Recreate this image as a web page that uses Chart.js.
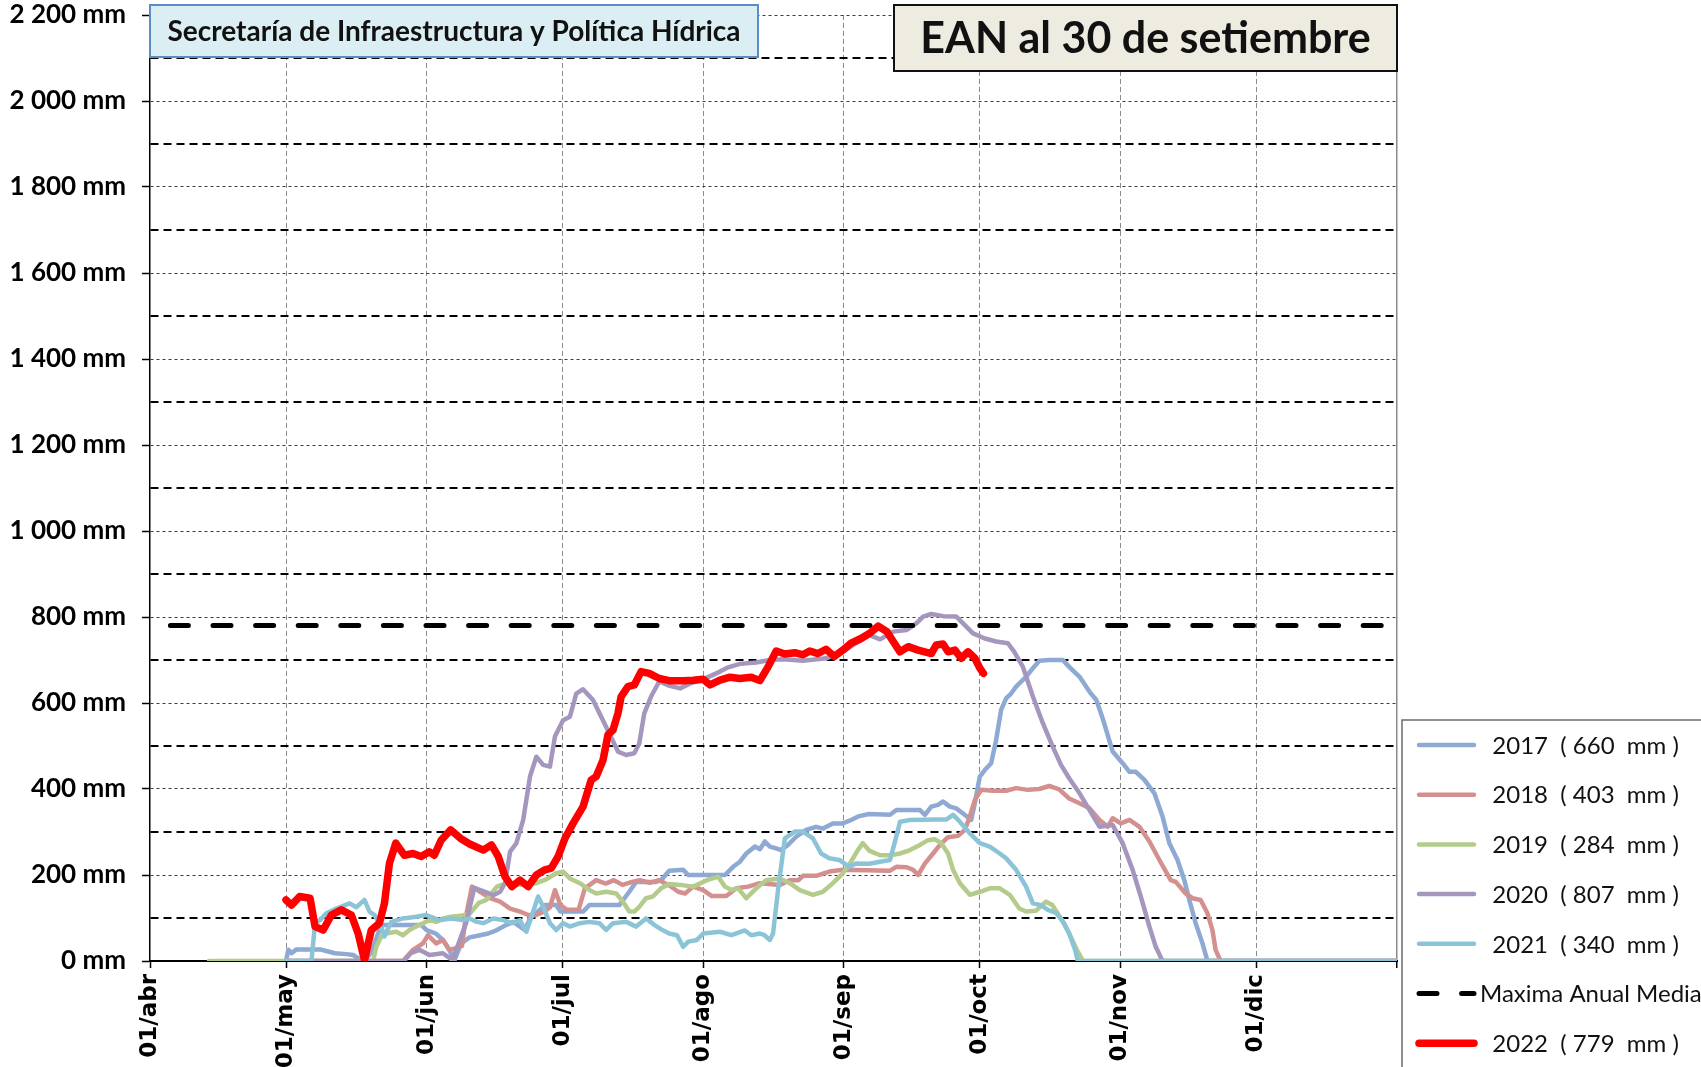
<!DOCTYPE html>
<html>
<head>
<meta charset="utf-8">
<title>EAN al 30 de setiembre</title>
<script src="https://cdn.jsdelivr.net/npm/chart.js@4.4.1/dist/chart.umd.min.js"></script>
<style>
  html, body { margin: 0; padding: 0; background: #fff; }
  #c { display: block; }
</style>
</head>
<body>
<canvas id="c" width="1701" height="1067"></canvas>
<script>
// ── Eje X: días contados desde el 01/abr ─────────────────────────────────
const MONTH_DAYS   = [0, 30, 61, 91, 122, 153, 183, 214, 244, 275]
const MONTH_LABELS = ["01/abr", "01/may", "01/jun", "01/jul", "01/ago", "01/sep", "01/oct", "01/nov", "01/dic", ""]

// ── Leyenda ──────────────────────────────────────────────────────────────
const SERIES_LABELS = [
  "  2017  ( 660  mm )",
  "  2018  ( 403  mm )",
  "  2019  ( 284  mm )",
  "  2020  ( 807  mm )",
  "  2021  ( 340  mm )",
  "Maxima Anual Media",
  "  2022  ( 779  mm )"
]

// ── Series (día, mm) ─────────────────────────────────────────────────────
const DAYS_2017 = [
  30, 30.5, 31.2, 32.3, 37.5, 39.3, 40.8, 43.3, 44.8, 46.3,
  47.3, 48.8, 50.5, 51.4, 59.8, 61, 63, 64.6, 66, 67.1,
  68.6, 70.5, 72.8, 74.6, 76.5, 78.6, 80.1, 81.6, 82.7, 83.8,
  87.1, 89.6, 90.5, 95.5, 96.9, 103.5, 105.7, 107.2, 111.6, 112.7,
  114.5, 117.6, 118.7, 126.8, 128.6, 130.1, 131.5, 133.4, 134.5, 135.6,
  136.7, 138.1, 139.2, 140.7, 142.5, 144.7, 146.9, 148.4, 150.6, 152.8,
  154.6, 156.4, 158.6, 163.2, 164.6, 169.8, 170.9, 172.3, 173.8, 174.9,
  176.4, 177.8, 179.3, 181.1, 181.9, 183, 184.1, 185.5, 186.6, 187.7,
  188.8, 189.9, 191, 193.2, 194.7, 196.1, 198.3, 201.3, 202.7, 205,
  207.2, 208.7, 210.1, 212.3, 214.5, 216, 217.4, 219.3, 221.5, 223.3,
  224.8, 226.6, 228.1, 229.2, 230.6, 232.1, 233.2, 275
]
const MM_2017 = [
  0, 26, 18, 27, 27, 22, 18, 16, 14, 4,
  0, 20, 70, 84, 84, 72, 64, 49, 26, 0,
  41, 55, 60, 64, 72, 84, 91, 80, 72, 99,
  130, 130, 115, 115, 130, 130, 161, 184, 184, 188,
  210, 212, 200, 200, 219, 231, 250, 266, 260, 278,
  266, 262, 258, 270, 289, 305, 312, 308, 320, 320,
  328, 337, 342, 340, 351, 351, 340, 359, 363, 371,
  359, 355, 343, 328, 367, 429, 444, 460, 514, 584,
  611, 622, 638, 661, 681, 698, 700, 700, 684, 661,
  626, 607, 564, 487, 460, 440, 440, 421, 390, 336,
  274, 235, 188, 142, 88, 41, 0, 0
]

const DAYS_2018 = [
  30, 55.8, 58, 60.2, 61.3, 63.1, 64.6, 66, 67.5, 68.8,
  69.6, 71, 72.8, 75, 77.2, 79.4, 81.6, 83.4, 85.2, 87,
  88.2, 89.3, 90.5, 92, 94.5, 95.9, 98.4, 100.5, 102.3, 104.2,
  106.3, 108, 110.2, 112.3, 114.6, 116.5, 118, 119.8, 122, 123.9,
  127.1, 129.3, 131.9, 134.5, 138.9, 141.1, 143, 144, 146.9, 149.8,
  152.8, 163.2, 164.6, 166.9, 168.3, 169.4, 170.9, 172.7, 174.2, 176,
  178.2, 179.7, 180.8, 181.9, 183.3, 185.9, 188.8, 191, 193.6, 196.1,
  198.3, 200.5, 202.7, 205, 207.2, 209.4, 211.2, 212.3, 214.1, 216,
  218.2, 220.4, 222.6, 225.1, 226.2, 228.4, 229.9, 231.7, 233.2, 234.3,
  235, 236.1, 275
]
const MM_2018 = [
  0, 0, 26, 41, 60, 41, 49, 26, 30, 35,
  100, 173, 161, 146, 138, 122, 115, 107, 107, 115,
  125, 165, 130, 119, 119, 169, 188, 180, 188, 177,
  184, 188, 182, 188, 175, 161, 157, 173, 165, 151,
  151, 169, 173, 181, 177, 188, 188, 198, 198, 208,
  212, 210, 219, 218, 212, 200, 227, 250, 270, 288,
  291, 305, 336, 374, 398, 396, 396, 402, 398, 400,
  407, 399, 378, 367, 355, 328, 312, 332, 320, 328,
  312, 278, 235, 188, 184, 157, 146, 142, 111, 72,
  26, 0, 0
]

const DAYS_2019 = [
  13, 49.2, 49.9, 51, 52.1, 54.3, 55.8, 57.2, 58.7, 60.2,
  61.6, 63.1, 64.6, 66.4, 68.5, 70.5, 72.5, 74.2, 76.5, 78.6,
  81.6, 85.2, 87.4, 89.6, 91.1, 92.6, 94.8, 96.9, 98.4, 100.6,
  102.8, 104.3, 105.7, 106.8, 107.9, 109.4, 110.9, 112.7, 114.5, 116.9,
  119.8, 122.8, 125.3, 126.8, 128.2, 129.7, 131.5, 133.7, 135.9, 138.9,
  141.1, 143.3, 146.2, 148.4, 150.6, 152.8, 154.6, 156.1, 157.2, 158.7,
  161, 163.2, 165.4, 167.6, 169.8, 171.6, 173.1, 174.5, 176, 177.1,
  178.6, 180.8, 183, 185.2, 187.4, 189.6, 191.7, 193.2, 195.4, 197.6,
  199, 200.9, 202.7, 204.4, 205.8, 275
]
const MM_2019 = [
  0, 0, 33, 57, 64, 68, 60, 72, 80, 88,
  95, 91, 99, 103, 105, 110, 135, 142, 173, 181,
  177, 181, 190, 204, 208, 192, 181, 165, 157, 161,
  157, 138, 115, 115, 126, 146, 150, 169, 179, 177,
  173, 188, 196, 173, 165, 169, 146, 169, 188, 192,
  181, 165, 154, 161, 181, 204, 231, 258, 274, 256,
  246, 246, 250, 258, 270, 281, 283, 274, 250, 212,
  181, 154, 161, 169, 169, 154, 122, 115, 117, 138,
  130, 99, 64, 26, 0, 0
]

const DAYS_2020 = [
  30, 56, 57.5, 59.4, 61.6, 64.6, 66.7, 68.6, 69.7, 71.5,
  73.9, 75.7, 77.2, 78.3, 79.4, 80.8, 82.3, 83.8, 85.2, 86.7,
  88.2, 89.3, 91.1, 92.6, 94, 95.5, 97.7, 99.5, 101.3, 103.2,
  105, 106.8, 107.9, 109, 110.5, 112.3, 114.6, 116.9, 119, 122,
  125.7, 127.5, 130.1, 133.7, 136.7, 139.6, 144, 149.1, 152.8, 155.7,
  158.7, 161, 163.9, 166.9, 169, 170.5, 172.3, 174.9, 177.8, 179.7,
  181.5, 184.1, 186.6, 189.2, 190.6, 192.5, 194.7, 196.9, 199.1, 200.9,
  202.7, 205, 207.2, 209.4, 212.3, 214.5, 216.7, 218.5, 220.4, 221.8,
  223.3, 275
]
const MM_2020 = [
  0, 0, 18, 26, 14, 18, 2, 57, 88, 170,
  161, 153, 161, 181, 254, 274, 328, 429, 475, 456,
  452, 522, 560, 568, 622, 632, 607, 568, 529, 487,
  479, 483, 506, 576, 615, 650, 640, 634, 645, 655,
  673, 683, 691, 694, 700, 702, 698, 704, 719, 739,
  758, 748, 766, 770, 785, 801, 807, 802, 801, 781,
  762, 750, 743, 739, 719, 684, 615, 553, 498, 456,
  425, 390, 351, 312, 316, 274, 212, 150, 80, 33,
  0, 0
]

const DAYS_2021 = [
  30, 35.6, 36.4, 37.5, 38.9, 41.1, 44, 45.5, 47.3, 48.4,
  49.5, 51, 51.7, 53.2, 55.8, 58.7, 60.9, 63.8, 66.4, 68.9,
  70.5, 72.1, 73.5, 75.7, 77.9, 79.8, 81.6, 83, 84.5, 85.6,
  86.7, 88.2, 89.6, 91.1, 92.6, 94.8, 96.9, 99.1, 100.6, 102.1,
  105, 107.2, 109.4, 111.2, 113, 114.5, 116.2, 117.6, 118.7, 120.6,
  122, 125.7, 128.2, 131.2, 132.6, 134.5, 135.5, 136.7, 137.4, 138.5,
  140, 142.2, 144, 146.2, 148, 149.8, 152, 154.2, 155.7, 158.6,
  161, 163.2, 164.3, 165.4, 167.6, 173.4, 175.6, 177.1, 178.6, 180.8,
  183, 185.2, 187.4, 188.8, 191, 193.2, 194.7, 196.5, 198, 199.8,
  201.6, 202.7, 204, 204.6, 275
]
const MM_2021 = [
  0, 0, 88, 95, 111, 122, 134, 125, 142, 115,
  107, 80, 57, 91, 99, 103, 107, 95, 99, 95,
  99, 91, 88, 99, 95, 88, 95, 68, 115, 150,
  126, 88, 72, 88, 80, 88, 91, 88, 72, 88,
  91, 80, 99, 84, 72, 64, 60, 33, 45, 49,
  64, 68, 60, 71, 60, 64, 60, 49, 64, 165,
  285, 301, 301, 285, 250, 239, 235, 219, 227, 226,
  231, 235, 278, 324, 328, 329, 329, 340, 324, 297,
  274, 266, 250, 239, 212, 173, 134, 130, 119, 112,
  88, 64, 26, 0, 0
]

const DAYS_2022 = [
  30, 31.2, 33, 35.3, 36.4, 38.2, 40, 42.2, 44.4, 45.9,
  47.3, 48.8, 50.6, 51.7, 52.8, 54.2, 56.1, 58, 59.8, 61.6,
  62.7, 64.2, 66.3, 68.5, 70.5, 73.5, 75.3, 76.8, 78.3, 79.8,
  81.6, 83.4, 85.2, 87.1, 88.5, 90, 91.5, 93.3, 95.5, 97.3,
  98.4, 99.9, 101, 102.1, 103.2, 103.9, 105.4, 106.8, 108.3, 110.1,
  112.3, 114.5, 117.6, 119.8, 122, 123.5, 125.7, 127.9, 130.1, 132.6,
  134.5, 136.3, 138.1, 140, 142.2, 144, 145.5, 147.3, 149.1, 150.9,
  152.8, 154.6, 156.8, 158.7, 160.6, 162.5, 163.9, 165.4, 167.2, 169.4,
  172.3, 173.4, 174.9, 176, 177.5, 178.9, 180.4, 181.9, 183, 183.8
]
const MM_2022 = [
  142, 130, 150, 146, 80, 72, 107, 119, 107, 64,
  2, 72, 88, 134, 227, 274, 246, 250, 243, 254,
  246, 281, 305, 285, 272, 258, 270, 243, 196, 173,
  188, 173, 200, 212, 216, 243, 285, 320, 359, 421,
  429, 467, 526, 537, 576, 615, 638, 642, 673, 669,
  657, 652, 652, 653, 655, 642, 653, 660, 657, 660,
  652, 684, 721, 714, 717, 712, 721, 715, 725, 708,
  723, 739, 750, 762, 779, 766, 743, 719, 731, 723,
  715, 735, 737, 719, 723, 704, 719, 704, 681, 669
]

// Máxima anual media (línea horizontal)
const DAYS_MAX = [4.5, 274]
const MM_MAX   = [780, 780]

const COLORS = ["#8DA9D4", "#D4908F", "#B4CB8C", "#A596BE", "#8CC4D7", "#000000", "#FF0000"]

// ── Helpers ──────────────────────────────────────────────────────────────
const pts = (days, vals) => days.map((d, i) => ({ x: d, y: vals[i] }))

function fmtMM(v) {
  if (v >= 1000) return Math.floor(v / 1000) + " " + String(v % 1000).padStart(3, "0") + " mm"
  return v + " mm"
}

function serie(i, days, vals, extra) {
  return Object.assign({
    label: SERIES_LABELS[i],
    data: pts(days, vals),
    borderColor: COLORS[i],
    backgroundColor: COLORS[i],
    borderWidth: 4.5,
    pointRadius: 0,
    tension: 0,
    borderJoinStyle: "round",
    borderCapStyle: "round",
    fill: false
  }, extra || {})
}

// ── Cajas de título y leyenda (dibujadas encima) ─────────────────────────
const framePlugin = {
  id: "frame",
  afterDraw(chart) {
    const { ctx, chartArea: a } = chart
    ctx.save()

    // Caja "Secretaría..."
    ctx.fillStyle = "#DBEEF4"
    ctx.strokeStyle = "#5B8CC6"
    ctx.lineWidth = 2
    ctx.fillRect(a.left, 5, 758 - a.left, 52)
    ctx.strokeRect(a.left, 5, 758 - a.left, 52)
    ctx.fillStyle = "#111"
    ctx.font = "bold 28px Lato"
    ctx.textAlign = "center"
    ctx.textBaseline = "middle"
    ctx.fillText("Secretaría de Infraestructura y Política Hídrica", (a.left + 758) / 2, 32)

    // Caja "EAN al 30 de setiembre"
    ctx.fillStyle = "#EEECE1"
    ctx.strokeStyle = "#111"
    ctx.fillRect(894, 5, a.right - 894, 66)
    ctx.strokeRect(894, 5, a.right - 894, 66)
    ctx.fillStyle = "#111"
    ctx.font = "bold 43px Lato"
    ctx.fillText("EAN al 30 de setiembre", (894 + a.right) / 2, 39)

    // Leyenda
    const lx = a.right + 5, ly = 720
    ctx.fillStyle = "#fff"
    ctx.fillRect(lx, ly, chart.width - lx + 10, chart.height - ly + 10)
    ctx.strokeStyle = "#6b6b6b"
    ctx.lineWidth = 1.5
    ctx.strokeRect(lx, ly, chart.width - lx + 10, chart.height - ly + 10)

    ctx.font = "24px Lato"
    ctx.textAlign = "left"
    chart.data.datasets.forEach((ds, i) => {
      const cy = 745 + i * 49.7
      ctx.save()
      ctx.strokeStyle = ds.borderColor
      ctx.lineWidth = ds.borderWidth
      ctx.lineCap = "round"
      ctx.setLineDash(ds.borderDash || [])
      ctx.beginPath()
      ctx.moveTo(lx + 17, cy)
      ctx.lineTo(lx + 72, cy)
      ctx.stroke()
      ctx.restore()
      ctx.fillStyle = "#111"
      ctx.fillText(ds.label, lx + 78, cy + 1)
    })

    ctx.restore()
  }
}

// ── Gráfico ──────────────────────────────────────────────────────────────
const datasets = [
  serie(0, DAYS_2017, MM_2017, { order: 6 }),
  serie(1, DAYS_2018, MM_2018, { order: 5 }),
  serie(2, DAYS_2019, MM_2019, { order: 4 }),
  serie(3, DAYS_2020, MM_2020, { order: 3 }),
  serie(4, DAYS_2021, MM_2021, { order: 2 }),
  serie(5, DAYS_MAX, MM_MAX, { order: 1, borderWidth: 5, borderDash: [18, 24.6] }),
  serie(6, DAYS_2022, MM_2022, { order: 0, borderWidth: 7.5 })
]

new Chart(document.getElementById("c"), {
  type: "line",
  data: { datasets },
  plugins: [framePlugin],
  options: {
    responsive: false,
    devicePixelRatio: 1,
    animation: false,
    layout: { padding: { top: 0, right: 304, bottom: 0, left: 0 } },
    plugins: {
      legend: { display: false },
      tooltip: { enabled: false }
    },
    scales: {
      x: {
        type: "linear",
        min: 0,
        max: 275,
        afterBuildTicks: s => { s.ticks = MONTH_DAYS.map(v => ({ value: v })) },
        afterFit: s => { s.height = 106 },
        ticks: {
          autoSkip: false,
          minRotation: 90,
          maxRotation: 90,
          padding: 6,
          color: "#000",
          font: { family: "DejaVu Sans", weight: "bold", size: 23 },
          callback: v => MONTH_LABELS[MONTH_DAYS.indexOf(v)] || ""
        },
        grid: {
          color: ctx => (ctx.tick && ctx.tick.value === 0) ? "rgba(0,0,0,0)" : "#8A8A8A",
          lineWidth: ctx => (ctx.tick && ctx.tick.value === 275) ? 1.5 : 1,
          tickLength: 7,
          tickColor: "#000",
          tickWidth: 1.5
        },
        border: {
          color: "#000",
          width: 2,
          dash: ctx => (ctx.tick && ctx.tick.value !== 275) ? [5, 3] : []
        }
      },
      y: {
        min: 0,
        max: 2200,
        // ancho fijo del eje y margen superior para que el área empiece en 2 200 mm
        afterFit: s => { s.width = 150; s.paddingTop = 15; s.paddingBottom = 0 },
        ticks: {
          stepSize: 100,
          autoSkip: false,
          padding: 16,
          color: "#000",
          font: { family: "Lato", weight: "bold", size: 26 },
          callback: v => v % 200 === 0 ? fmtMM(v) : ""
        },
        grid: {
          color: ctx => {
            if (!ctx.tick || ctx.tick.value === 0) return "rgba(0,0,0,0)"
            return ctx.tick.value % 200 === 0 ? "#3C3C3C" : "#000"
          },
          lineWidth: ctx => (ctx.tick && ctx.tick.value % 200 !== 0) ? 2 : 1,
          tickLength: 8,
          tickColor: ctx => (ctx.tick && ctx.tick.value % 200 === 0) ? "#000" : "rgba(0,0,0,0)",
          tickWidth: 1.5
        },
        border: {
          color: "#000",
          width: 1.5,
          dash: ctx => {
            if (!ctx.tick) return []
            return ctx.tick.value % 200 === 0 ? [3, 3] : [8, 5]
          }
        }
      }
    }
  }
})
</script>
</body>
</html>
